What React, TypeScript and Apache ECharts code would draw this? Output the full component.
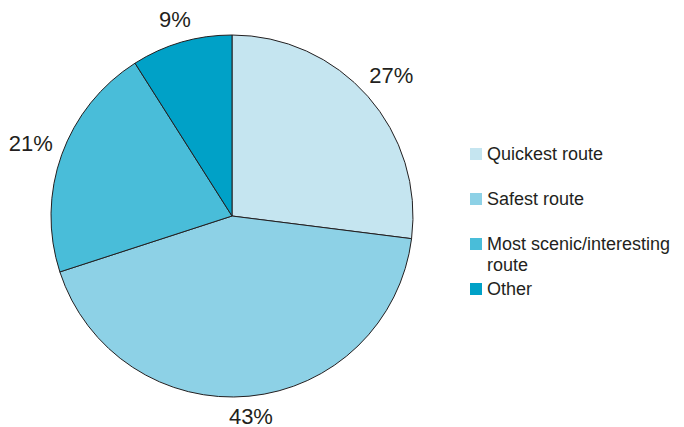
import React, { useEffect, useRef } from "react";
import * as echarts from "echarts";

const categories = ["Quickest route", "Safest route", "Most scenic/interesting route", "Other"];
const legendLabels = ["Quickest route", "Safest route", "\nMost scenic/interesting\nroute", "Other"];
const values = [27, 43, 21, 9];
const colors = ["#c5e5f0", "#8dd1e6", "#49bdd9", "#00a1c7"];
const legendTops = [143.5, 188.5, 212.5, 278.5];

const TEXT = "#231f20";
const FONT = "'Liberation Sans', Arial, Helvetica, sans-serif";
const LABEL_W = 44;

export default function App() {
  const ref = useRef<HTMLDivElement>(null);
  useEffect(() => {
    if (!ref.current) return;
    const chart = echarts.init(ref.current, undefined, { renderer: "svg" });
    const legends = categories.map((name, i) => ({
      orient: "vertical",
      left: 470,
      top: legendTops[i],
      padding: 0,
      icon: "rect",
      itemWidth: 12,
      itemHeight: 12,
      selectedMode: false,
      itemStyle: { borderWidth: 0 },
      data: [name],
      formatter: () => legendLabels[i],
      textStyle: { fontSize: 18, color: TEXT, fontFamily: FONT, lineHeight: 21 },
    }));
    chart.setOption({
      animation: false,
      backgroundColor: "#ffffff",
      legend: legends,
      series: [
        {
          type: "pie",
          center: [232, 216],
          radius: 181,
          startAngle: 90,
          clockwise: true,
          silent: true,
          data: categories.map((name, i) => ({
            name,
            value: values[i],
            itemStyle: { color: colors[i] },
          })),
          itemStyle: { borderColor: TEXT, borderWidth: 1 },
          label: {
            show: true,
            position: "outside",
            formatter: (p: any) => `${p.value}%`,
            fontSize: 22,
            lineHeight: 20,
            color: TEXT,
            fontFamily: FONT,
            width: LABEL_W,
            overflow: "none",
          },
          labelLine: { show: true, length: 10, length2: 0, lineStyle: { opacity: 0 } },
          labelLayout: (p: any) => {
            const pts = p.labelLinePoints;
            if (!pts || pts.length < 2) return {};
            let dx = pts[1][0] - pts[0][0];
            let dy = pts[1][1] - pts[0][1];
            const n = Math.hypot(dx, dy) || 1;
            dx /= n;
            dy /= n;
            const d = 9 + (LABEL_W / 2) * Math.abs(dx) + 9 * Math.abs(dy);
            return {
              x: pts[0][0] + dx * d,
              y: pts[0][1] + dy * d,
              align: "center",
              verticalAlign: "middle",
            };
          },
        },
      ],
    });
    return () => chart.dispose();
  }, []);
  return <div ref={ref} style={{ width: 684, height: 427, position: "absolute", left: 0, top: 0 }} />;
}
